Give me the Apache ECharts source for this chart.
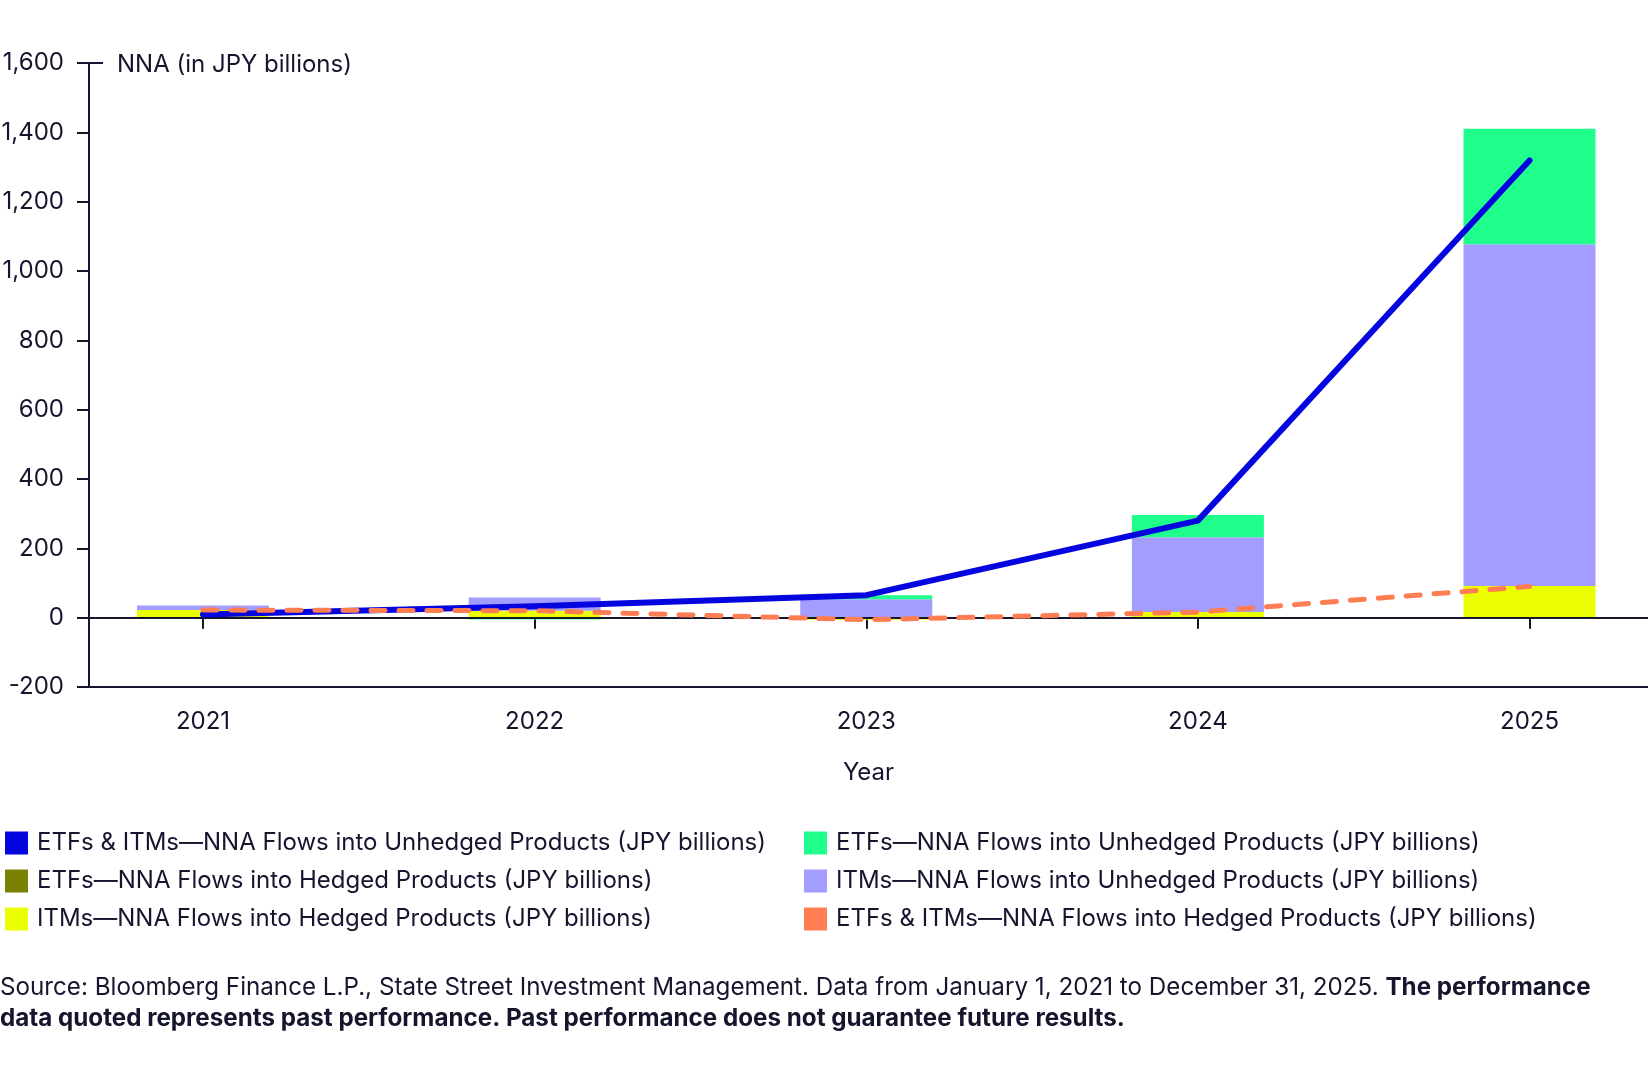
<!DOCTYPE html>
<html>
<head>
<meta charset="utf-8">
<script src="https://cdn.jsdelivr.net/npm/echarts@6/dist/echarts.min.js"></script>
<style>
html,body{margin:0;padding:0;background:#fff;}
#c{width:1648px;height:1080px;}
</style>
</head>
<body>
<div id="c"></div>
<script>
const years = ['2021', '2022', '2023', '2024', '2025'];
const etfsHedged = [1, 2, -1, 1, -1];
const itmsHedged = [21, 18, -5, 15, 91];
const itmsUnhedged = [13, 38, 53, 216, 986];
const etfsUnhedged = [-4, -5, 12, 64, 333];
const unhedgedTotal = [9, 33, 65, 280, 1319];
const hedgedTotal = [22, 20, -6, 16, 90];
const yTicks = { min: -200, max: 1600, interval: 200 };

const N_UT = 'ETFs & ITMs—NNA Flows into Unhedged Products (JPY billions)';
const N_EH = 'ETFs—NNA Flows into Hedged Products (JPY billions)';
const N_IH = 'ITMs—NNA Flows into Hedged Products (JPY billions)';
const N_EU = 'ETFs—NNA Flows into Unhedged Products (JPY billions)';
const N_IU = 'ITMs—NNA Flows into Unhedged Products (JPY billions)';
const N_HT = 'ETFs & ITMs—NNA Flows into Hedged Products (JPY billions)';

const INK = '#15152e';
const FONT = 'Inter';
const FS = 24;

const chart = echarts.init(document.getElementById('c'), null, { renderer: 'canvas' });

function barSeries(name, data, color) {
  return {
    name, type: 'bar', stack: 'flows', barWidth: 132,
    xAxisIndex: 0, yAxisIndex: 0,
    data: data, itemStyle: { color }, z: 2
  };
}

const legendCommon = {
  orient: 'vertical', top: 826, itemWidth: 23, itemHeight: 23, itemGap: 14,
  icon: 'rect', selectedMode: false,
  itemStyle: { borderWidth: 0 },
  lineStyle: { width: 0 },
  textStyle: { fontFamily: FONT, fontSize: FS, color: INK, padding: [0, 0, 0, 4] }
};

const option = {
  animation: false,
  backgroundColor: '#ffffff',
  textStyle: { fontFamily: FONT },
  grid: [
    { left: 37.19, width: 1658.12, top: 63, height: 624, containLabel: false, outerBoundsMode: 'none' },
    { left: 89, right: 0, top: 63, height: 624, containLabel: false, outerBoundsMode: 'none' }
  ],
  legend: [
    Object.assign({}, legendCommon, { left: 0, data: [N_UT, N_EH, N_IH] }),
    Object.assign({}, legendCommon, { left: 799, data: [N_EU, N_IU, N_HT] })
  ],
  xAxis: [
    {
      gridIndex: 0, type: 'category', data: years, boundaryGap: true,
      axisLine: { show: false },
      axisTick: { show: true, alignWithLabel: true, length: 11, lineStyle: { color: INK, width: 2 } },
      axisLabel: { margin: 23, fontFamily: FONT, fontSize: FS, color: INK },
      splitLine: { show: false }
    },
    {
      gridIndex: 1, type: 'value', min: 0, max: 1,
      name: 'Year', nameLocation: 'middle', nameGap: 74,
      nameTextStyle: { fontFamily: FONT, fontSize: FS, color: INK },
      axisLine: { show: true, onZero: false, lineStyle: { color: INK, width: 2 } },
      axisTick: { show: false }, axisLabel: { show: false }, splitLine: { show: false }
    }
  ],
  yAxis: [
    { gridIndex: 0, type: 'value', min: yTicks.min, max: yTicks.max, interval: yTicks.interval, show: false },
    {
      gridIndex: 1, type: 'value', min: yTicks.min, max: yTicks.max, interval: yTicks.interval,
      axisLine: { show: true, lineStyle: { color: INK, width: 2 } },
      axisTick: { show: true, length: 12, lineStyle: { color: INK, width: 2 } },
      axisLabel: { margin: 25, fontFamily: FONT, fontSize: FS, color: INK },
      splitLine: { show: false }
    }
  ],
  series: [
    barSeries(N_EH, etfsHedged, '#7a8000'),
    barSeries(N_IH, itmsHedged, '#ebff00'),
    barSeries(N_IU, itmsUnhedged, '#a29dff'),
    barSeries(N_EU, etfsUnhedged, '#20ff8c'),
    {
      type: 'line', xAxisIndex: 1, yAxisIndex: 1, data: [], z: 3,
      markLine: {
        silent: true, symbol: ['none', 'none'], label: { show: false },
        lineStyle: { color: INK, width: 2, type: 'solid' },
        data: [{ yAxis: 0 }]
      }
    },
    {
      name: N_UT, type: 'line', xAxisIndex: 0, yAxisIndex: 0, data: unhedgedTotal, z: 5,
      showSymbol: false, symbol: 'none',
      itemStyle: { color: '#0505e0' },
      lineStyle: { color: '#0505e0', width: 6, cap: 'round', join: 'round' }
    },
    {
      name: N_HT, type: 'line', xAxisIndex: 0, yAxisIndex: 0, data: hedgedTotal, z: 6,
      showSymbol: false, symbol: 'none',
      itemStyle: { color: '#ff7d52' },
      lineStyle: { color: '#ff7d52', width: 5, type: [14, 14], cap: 'round' }
    }
  ]
};
chart.setOption(option);

const topPx = chart.convertToPixel({ yAxisIndex: 1 }, yTicks.max);
const axisX = chart.convertToPixel({ xAxisIndex: 1 }, 0);
chart.setOption({
  graphic: [
    { type: 'line', shape: { x1: axisX, y1: topPx, x2: axisX + 14, y2: topPx },
      style: { stroke: INK, lineWidth: 2 }, z: 10 },
    { type: 'text', x: axisX + 28, y: topPx + 2,
      style: { text: 'NNA (in JPY billions)', fontFamily: FONT, fontSize: FS, fill: INK,
        verticalAlign: 'middle', align: 'left' } },
    { type: 'text', left: 0, top: 976,
      style: {
        text: '{n|Source: Bloomberg Finance L.P., State Street Investment Management. Data from January 1, 2021 to December 31, 2025. }{b|The performance}\n{b|data quoted represents past performance. Past performance does not guarantee future results.}',
        rich: {
          n: { fontFamily: FONT, fontSize: 24.2, fill: INK, lineHeight: 30.5 },
          b: { fontFamily: FONT, fontSize: 24.2, fontWeight: 'bold', fill: INK, lineHeight: 30.5 }
        }
      } }
  ]
});
</script>
</body>
</html>
